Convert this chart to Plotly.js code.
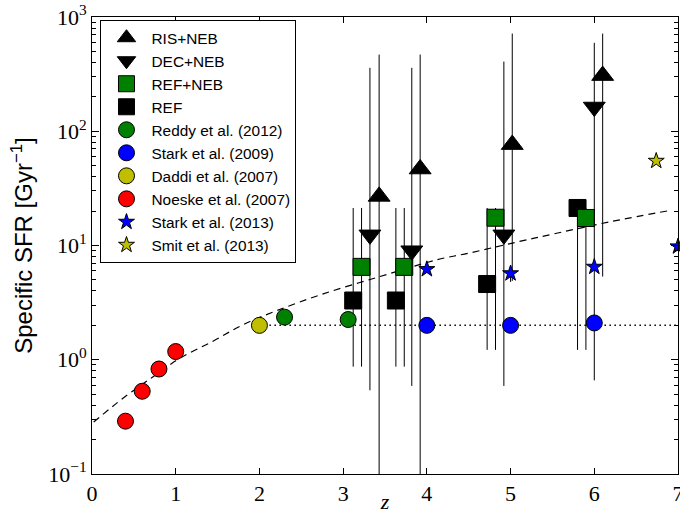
<!DOCTYPE html>
<html>
<head>
<meta charset="utf-8">
<script src="https://cdn.plot.ly/plotly-3.0.1.min.js"></script>
<style>html,body{margin:0;padding:0;background:#fff}#chart{width:680px;height:514px}</style>
</head>
<body>
<div id="chart"></div>
<script>
// ---- data ----
var risZ = [3.43, 3.92, 5.02, 6.10];
var risY = [26.9, 46.7, 76.4, 307];
var risHi = [469, 469, 716, 716];
var risLo = [0.05, 0.05, 4.9, 5.35];

var decZ = [3.32, 3.82, 4.92, 6.00];
var decY = [12.4, 9.0, 12.4, 163];
var decHi = [359, 359, 407, 594];
var decLo = [0.54, 0.59, 0.59, 0.66];

var refNebZ = [3.22, 3.73, 4.82, 5.90];
var refNebY = [6.5, 6.5, 17.5, 17.4];
var refNebHi = [21.3, 21.3, 21.3, 21.3];
var refNebLo = [0.87, 0.87, 1.22, 1.22];

var refZ = [3.12, 3.63, 4.72, 5.80];
var refY = [3.3, 3.3, 4.6, 21.3];
var refHi = [21.3, 21.3, 21.3, 21.3];
var refLo = [0.87, 0.87, 1.22, 1.22];

var reddyZ = [2.30, 3.06];
var reddyY = [2.36, 2.25];

var stark09Z = [4, 5, 6];
var stark09Y = [2.0, 2.0, 2.1];

var daddiZ = [2.0];
var daddiY = [2.0];

var noeskeZ = [0.4, 0.6, 0.8, 1.0];
var noeskeY = [0.29, 0.53, 0.83, 1.18];

var stark13Z = [4, 5, 6, 7];
var stark13Y = [6.2, 5.7, 6.5, 9.8];
var stark13Err = [0, 0.9, 0, 0];

var smitZ = [6.74];
var smitY = [55];

var modelZ = [0.02, 0.37, 0.73, 1.05, 1.45, 1.80, 2.20, 2.75, 3.44, 4.12, 4.51, 5.07, 5.55, 6.20, 6.91];
var modelY = [0.285, 0.46, 0.71, 1.03, 1.46, 2.02, 2.68, 3.75, 5.35, 7.5, 8.6, 10.7, 12.8, 16.2, 20.3];

var plateauZ = [2.0, 7.0];
var plateauY = [2.0, 2.0];

var xTicks = [0, 1, 2, 3, 4, 5, 6, 7];
var yTickVals = [0.1, 1, 10, 100, 1000];
var yTickText = ['10<sup>\u22121</sup>', '10<sup>0</sup>', '10<sup>1</sup>', '10<sup>2</sup>', '10<sup>3</sup>'];

var legendNames = ['RIS+NEB', 'DEC+NEB', 'REF+NEB', 'REF', 'Reddy et al. (2012)', 'Stark et al. (2009)',
  'Daddi et al. (2007)', 'Noeske et al. (2007)', 'Stark et al. (2013)', 'Smit et al. (2013)'];

// ---- helpers ----
function diff(a, b) { return a.map(function (v, i) { return v - b[i]; }); }
function errY(y, hi, lo) {
  return {type: 'data', symmetric: false, array: diff(hi, y), arrayminus: diff(y, lo),
          color: '#000', thickness: 1, width: 0};
}
var edge = {color: '#000', width: 1};
var minorVals = [];
for (var d = -1; d < 3; d++) { for (var k = 2; k <= 9; k++) { minorVals.push(k * Math.pow(10, d)); } }

var traces = [
  {x: modelZ, y: modelY, mode: 'lines', line: {color: '#000', width: 1.2, dash: '7px,5px', shape: 'spline'},
   showlegend: false, hoverinfo: 'skip'},
  {x: plateauZ, y: plateauY, mode: 'lines', line: {color: '#000', width: 1.5, dash: '1.5px,3.5px'},
   showlegend: false, hoverinfo: 'skip'},
  {x: refZ, y: refY, name: legendNames[3], legendrank: 4, mode: 'markers', error_y: errY(refY, refHi, refLo),
   marker: {symbol: 'square', size: 17, color: '#000', line: edge}},
  {x: refNebZ, y: refNebY, name: legendNames[2], legendrank: 3, mode: 'markers', error_y: errY(refNebY, refNebHi, refNebLo),
   marker: {symbol: 'square', size: 17, color: '#008000', line: edge}},
  {x: decZ, y: decY, name: legendNames[1], legendrank: 2, mode: 'markers', error_y: errY(decY, decHi, decLo),
   marker: {symbol: 'triangle-down', size: 19, color: '#000', line: edge}},
  {x: risZ, y: risY, name: legendNames[0], legendrank: 1, mode: 'markers', error_y: errY(risY, risHi, risLo),
   marker: {symbol: 'triangle-up', size: 19, color: '#000', line: edge}},
  {x: reddyZ, y: reddyY, name: legendNames[4], legendrank: 5, mode: 'markers',
   marker: {symbol: 'circle', size: 16, color: '#008000', line: edge}},
  {x: stark09Z, y: stark09Y, name: legendNames[5], legendrank: 6, mode: 'markers',
   marker: {symbol: 'circle', size: 16, color: '#0000ff', line: edge}},
  {x: daddiZ, y: daddiY, name: legendNames[6], legendrank: 7, mode: 'markers',
   marker: {symbol: 'circle', size: 16, color: '#bfbf00', line: edge}},
  {x: noeskeZ, y: noeskeY, name: legendNames[7], legendrank: 8, mode: 'markers',
   marker: {symbol: 'circle', size: 16, color: '#ff0000', line: edge}},
  {x: stark13Z, y: stark13Y, name: legendNames[8], legendrank: 9, mode: 'markers', cliponaxis: false,
   error_y: {type: 'data', array: stark13Err, color: '#000', thickness: 1, width: 0},
   marker: {symbol: 'star', size: 12, color: '#0000ff', line: edge}},
  {x: smitZ, y: smitY, name: legendNames[9], legendrank: 10, mode: 'markers', cliponaxis: false,
   marker: {symbol: 'star', size: 12, color: '#bfbf00', line: edge}}
];

var serif = 'Liberation Serif, DejaVu Serif, serif';
var sans = 'Liberation Sans, Arial, sans-serif';

var layout = {
  width: 680, height: 514,
  margin: {l: 92, r: 2, t: 17, b: 40, pad: 0},
  paper_bgcolor: '#fff', plot_bgcolor: '#fff',
  showlegend: true,
  legend: {x: 0.0145, y: 0.993, xanchor: 'left', yanchor: 'top', bgcolor: '#fff',
           bordercolor: '#000', borderwidth: 1, font: {family: sans, size: 15.4, color: '#000'},
           traceorder: 'normal', itemwidth: 40},
  xaxis: {range: [0, 7], tickmode: 'array', tickvals: xTicks, ticks: 'inside', ticklen: 6, tickwidth: 1,
          tickcolor: '#000', mirror: 'ticks', showline: true, linecolor: '#000', linewidth: 1,
          showgrid: false, zeroline: false, ticklabeloverflow: 'allow',
          tickfont: {family: serif, size: 22, color: '#000'},
          title: {text: '<i>z</i>', font: {family: serif, size: 22, color: '#000'}, standoff: 0}},
  yaxis: {type: 'log', range: [-1, 3], tickmode: 'array', tickvals: yTickVals, ticktext: yTickText,
          ticks: 'inside', ticklen: 7, tickwidth: 1, tickcolor: '#000', mirror: 'ticks', showline: true,
          linecolor: '#000', linewidth: 1, showgrid: false, zeroline: false,
          minor: {tickmode: 'array', tickvals: minorVals, ticks: 'inside', ticklen: 4, tickcolor: '#000', showgrid: false},
          tickfont: {family: serif, size: 22, color: '#000'},
          title: {text: 'Specific SFR [Gyr<sup>\u22121</sup>]', font: {family: sans, size: 24, color: '#000'}, standoff: 8}}
};

Plotly.newPlot('chart', traces, layout, {displayModeBar: false, staticPlot: true});
</script>
</body>
</html>
